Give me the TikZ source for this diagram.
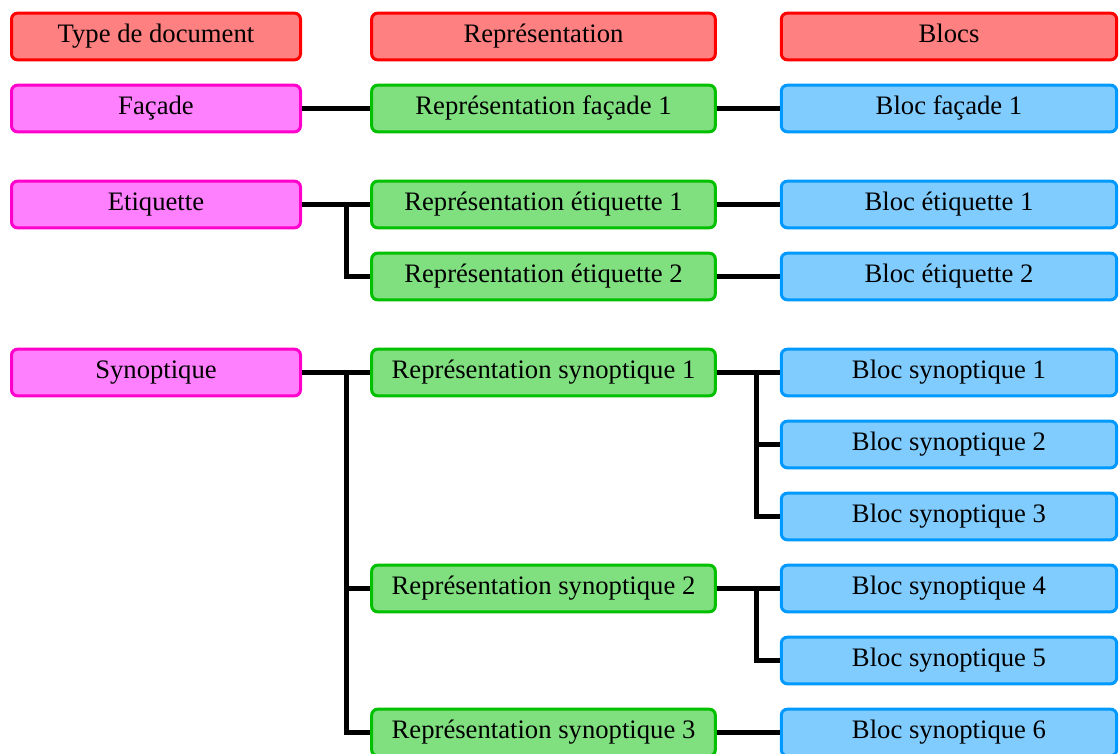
\documentclass[tikz,border=0pt]{standalone}
\usepackage{fontspec}
\setmainfont{Liberation Serif}
\usepackage{xcolor}
\usetikzlibrary{positioning}

\definecolor{headline}{RGB}{255,0,0}
\definecolor{headfill}{RGB}{255,128,128}
\definecolor{typeline}{RGB}{255,0,204}
\definecolor{typefill}{RGB}{255,128,255}
\definecolor{repline}{RGB}{0,192,0}
\definecolor{repfill}{RGB}{128,224,128}
\definecolor{blocline}{RGB}{0,153,255}
\definecolor{blocfill}{RGB}{128,204,255}

\tikzset{
  box/.style={draw,rounded corners=4.5pt,line width=2.25pt,minimum height=35pt,inner sep=0pt,
    text height=13.5pt,text depth=4.5pt,font=\fontsize{20}{24}\selectfont},
  headbox/.style={box,draw=headline,fill=headfill},
  typebox/.style={box,draw=typeline,fill=typefill},
  repbox/.style={box,draw=repline,fill=repfill},
  blocbox/.style={box,draw=blocline,fill=blocfill},
  colA/.style={minimum width=216.75pt},
  colB/.style={minimum width=257.75pt},
  colC/.style={minimum width=251.5pt},
  link/.style={line width=3.75pt}
}

\begin{document}
\begin{tikzpicture}[x=0.75pt,y=0.75pt,yscale=-1,xscale=1]
\useasboundingbox (0,0) rectangle (1120,753);

% Headers
\node[headbox,colA] (hType) at (156,36.5) {Type de document};
\node[headbox,colB] (hRep) at (543.5,36.5) {Représentation};
\node[headbox,colC] (hBloc) at (949,36.5) {Blocs};

% Façade
\node[typebox,colA] (tFac) at (156,108.5) {Façade};
\node[repbox,colB] (rFac1) at (543.5,108.5) {Représentation façade 1};
\node[blocbox,colC] (bFac1) at (949,108.5) {Bloc façade 1};

% Etiquette
\node[typebox,colA] (tEti) at (156,204.5) {Etiquette};
\node[repbox,colB] (rEti1) at (543.5,204.5) {Représentation étiquette 1};
\node[repbox,colB] (rEti2) at (543.5,276.5) {Représentation étiquette 2};
\node[blocbox,colC] (bEti1) at (949,204.5) {Bloc étiquette 1};
\node[blocbox,colC] (bEti2) at (949,276.5) {Bloc étiquette 2};

% Synoptique
\node[typebox,colA] (tSyn) at (156,372.5) {Synoptique};
\node[repbox,colB] (rSyn1) at (543.5,372.5) {Représentation synoptique 1};
\node[repbox,colB] (rSyn2) at (543.5,588.5) {Représentation synoptique 2};
\node[repbox,colB] (rSyn3) at (543.5,732.5) {Représentation synoptique 3};
\node[blocbox,colC] (bSyn1) at (949,372.5) {Bloc synoptique 1};
\node[blocbox,colC] (bSyn2) at (949,444.5) {Bloc synoptique 2};
\node[blocbox,colC] (bSyn3) at (949,516.5) {Bloc synoptique 3};
\node[blocbox,colC] (bSyn4) at (949,588.5) {Bloc synoptique 4};
\node[blocbox,colC] (bSyn5) at (949,660.5) {Bloc synoptique 5};
\node[blocbox,colC] (bSyn6) at (949,732.5) {Bloc synoptique 6};

% Junctions
\coordinate (jEti) at (346,204.5);
\coordinate (jSyn) at (346,372.5);
\coordinate (jRs1) at (756,372.5);
\coordinate (jRs2) at (756,588.5);

% Links
\draw[link] (tFac.east) -- (rFac1.west);
\draw[link] (rFac1.east) -- (bFac1.west);

\draw[link] (tEti.east) -- (rEti1.west);
\draw[link] (jEti) |- (rEti2.west);
\draw[link] (rEti1.east) -- (bEti1.west);
\draw[link] (rEti2.east) -- (bEti2.west);

\draw[link] (tSyn.east) -- (rSyn1.west);
\draw[link] (jSyn) |- (rSyn2.west);
\draw[link] (jSyn) |- (rSyn3.west);
\draw[link] (rSyn1.east) -- (bSyn1.west);
\draw[link] (jRs1) |- (bSyn2.west);
\draw[link] (jRs1) |- (bSyn3.west);
\draw[link] (rSyn2.east) -- (bSyn4.west);
\draw[link] (jRs2) |- (bSyn5.west);
\draw[link] (rSyn3.east) -- (bSyn6.west);

\end{tikzpicture}
\end{document}
